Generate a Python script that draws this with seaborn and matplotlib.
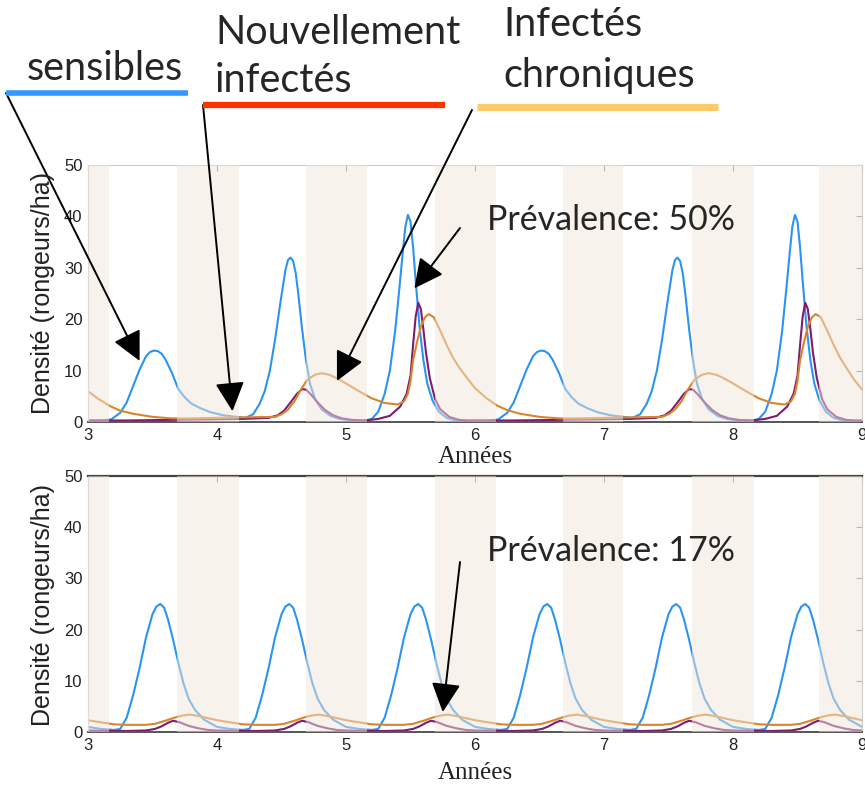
import matplotlib
matplotlib.use("Agg")
import matplotlib.pyplot as plt
from matplotlib.lines import Line2D
import seaborn as sns
import pandas as pd

# ---------------- data ----------------
season_bands = [(3.0, 3.16), (3.69, 4.17), (4.69, 5.16), (5.69, 6.16),
                (6.68, 7.15), (7.68, 8.16), (8.67, 9.0)]

# Top panel (prévalence 50%)
top_s_x = [3.00, 3.10, 3.18, 3.25, 3.30, 3.35, 3.40, 3.45, 3.48, 3.51,
           3.54, 3.57, 3.60, 3.65, 3.70, 3.75, 3.80, 3.87, 3.95, 4.05,
           4.15, 4.22, 4.28, 4.33, 4.37, 4.41, 4.45, 4.49, 4.53, 4.55,
           4.57, 4.59, 4.61, 4.63, 4.66, 4.69, 4.72, 4.76, 4.81, 4.88,
           4.95, 5.05, 5.15, 5.20, 5.25, 5.30, 5.34, 5.38, 5.41, 5.44,
           5.46, 5.48, 5.50, 5.52, 5.54, 5.57, 5.60, 5.63, 5.67, 5.72,
           5.78, 5.85, 5.95,
           6.00, 6.10, 6.18, 6.25, 6.30, 6.35, 6.40, 6.45, 6.48, 6.51,
           6.54, 6.57, 6.60, 6.65, 6.70, 6.75, 6.80, 6.87, 6.95, 7.05,
           7.15, 7.22, 7.28, 7.33, 7.37, 7.41, 7.45, 7.49, 7.53, 7.55,
           7.57, 7.59, 7.61, 7.63, 7.66, 7.69, 7.72, 7.76, 7.81, 7.88,
           7.95, 8.05, 8.15, 8.20, 8.25, 8.30, 8.34, 8.38, 8.41, 8.44,
           8.46, 8.48, 8.50, 8.52, 8.54, 8.57, 8.60, 8.63, 8.67, 8.72,
           8.78, 8.85, 8.95, 9.00]
top_s_y = [0.3, 0.3, 0.5, 1.8, 3.8, 7.0, 10.2, 12.8, 13.6, 13.9,
           13.8, 13.3, 12.2, 9.6, 6.4, 4.8, 3.6, 2.7, 1.9, 1.3,
           1.0, 0.8, 1.5, 3.5, 6.0, 10.0, 16.0, 23.0, 29.5, 31.5,
           32.0, 31.3, 29.0, 25.0, 18.0, 12.0, 7.5, 4.5, 2.5, 1.2,
           0.6, 0.3, 0.3, 0.6, 2.0, 5.5, 10.0, 17.5, 25.0, 33.0,
           38.0, 40.3, 39.0, 34.0, 27.5, 18.5, 12.0, 7.5, 4.2, 2.0,
           0.8, 0.3, 0.2,
           0.3, 0.3, 0.5, 1.8, 3.8, 7.0, 10.2, 12.8, 13.6, 13.9,
           13.8, 13.3, 12.2, 9.6, 6.4, 4.8, 3.6, 2.7, 1.9, 1.3,
           1.0, 0.8, 1.5, 3.5, 6.0, 10.0, 16.0, 23.0, 29.5, 31.5,
           32.0, 31.3, 29.0, 25.0, 18.0, 12.0, 7.5, 4.5, 2.5, 1.2,
           0.6, 0.3, 0.3, 0.6, 2.0, 5.5, 10.0, 17.5, 25.0, 33.0,
           38.0, 40.3, 39.0, 34.0, 27.5, 18.5, 12.0, 7.5, 4.2, 2.0,
           0.8, 0.3, 0.2, 0.2]

top_n_x = [3.00, 3.30, 3.60, 3.90, 4.20, 4.40, 4.47, 4.52, 4.57, 4.62,
           4.66, 4.69, 4.73, 4.78, 4.84, 4.90, 4.97, 5.05, 5.15, 5.25,
           5.34, 5.42, 5.47, 5.50, 5.52, 5.54, 5.56, 5.58, 5.60, 5.62,
           5.65, 5.69, 5.73, 5.80, 5.88, 5.95,
           6.00, 6.30, 6.60, 6.90, 7.20, 7.40, 7.47, 7.52, 7.57, 7.62,
           7.66, 7.69, 7.73, 7.78, 7.84, 7.90, 7.97, 8.05, 8.15, 8.25,
           8.34, 8.42, 8.47, 8.50, 8.52, 8.54, 8.56, 8.58, 8.60, 8.62,
           8.65, 8.69, 8.73, 8.80, 8.88, 8.95, 9.00]
top_n_y = [0.3, 0.3, 0.4, 0.5, 0.6, 0.8, 1.3, 2.2, 3.8, 5.5,
           6.4, 6.3, 5.3, 3.8, 2.3, 1.3, 0.7, 0.4, 0.3, 0.6,
           1.2, 3.0, 5.5, 9.0, 15.0, 20.5, 23.2, 22.0, 18.0, 13.5,
           8.5, 4.5, 2.5, 1.0, 0.4, 0.3,
           0.3, 0.3, 0.4, 0.5, 0.6, 0.8, 1.3, 2.2, 3.8, 5.5,
           6.4, 6.3, 5.3, 3.8, 2.3, 1.3, 0.7, 0.4, 0.3, 0.6,
           1.2, 3.0, 5.5, 9.0, 15.0, 20.5, 23.2, 22.0, 18.0, 13.5,
           8.5, 4.5, 2.5, 1.0, 0.4, 0.3, 0.3]

top_c_x = [3.00, 3.08, 3.17, 3.25, 3.35, 3.50, 3.65, 3.80, 4.00, 4.20,
           4.45, 4.50, 4.55, 4.60, 4.65, 4.70, 4.76, 4.81, 4.87, 4.93,
           5.00, 5.10, 5.20, 5.30, 5.40, 5.45, 5.48, 5.50, 5.52, 5.55,
           5.58, 5.61, 5.64, 5.68, 5.73, 5.78, 5.83, 5.88, 5.94,
           6.00, 6.08, 6.17, 6.25, 6.35, 6.50, 6.65, 6.80, 7.00, 7.20,
           7.45, 7.50, 7.55, 7.60, 7.65, 7.70, 7.76, 7.81, 7.87, 7.93,
           8.00, 8.10, 8.20, 8.30, 8.40, 8.45, 8.48, 8.50, 8.52, 8.55,
           8.58, 8.61, 8.64, 8.68, 8.73, 8.78, 8.83, 8.88, 8.94, 9.00]
top_c_y = [6.0, 4.5, 3.1, 2.2, 1.6, 1.0, 0.7, 0.7, 0.8, 0.9,
           1.0, 1.5, 2.4, 4.0, 6.3, 8.2, 9.2, 9.5, 9.2, 8.5,
           7.5, 6.0, 4.6, 3.7, 3.4, 4.0, 5.5, 8.0, 12.0, 15.5,
           18.5, 20.3, 21.0, 20.4, 17.8, 15.0, 12.5, 10.5, 8.5,
           6.6, 4.8, 3.2, 2.3, 1.6, 1.0, 0.7, 0.7, 0.8, 0.9,
           1.0, 1.5, 2.4, 4.0, 6.3, 8.2, 9.2, 9.5, 9.2, 8.5,
           7.5, 6.0, 4.6, 3.7, 3.4, 4.0, 5.5, 8.0, 12.0, 15.5,
           18.5, 20.3, 21.0, 20.4, 17.8, 15.0, 12.5, 10.5, 8.2, 6.3]

# Bottom panel (prévalence 17%)
bot_s_x = [3.00, 3.10, 3.20, 3.25, 3.30, 3.35, 3.40, 3.45, 3.50, 3.53, 3.56, 3.59, 3.62, 3.66, 3.70, 3.74, 3.78, 3.83, 3.90,
           4.00, 4.10, 4.20, 4.25, 4.30, 4.35, 4.40, 4.45, 4.50, 4.53, 4.56, 4.59, 4.62, 4.66, 4.70, 4.74, 4.78, 4.83, 4.90,
           5.00, 5.10, 5.20, 5.25, 5.30, 5.35, 5.40, 5.45, 5.50, 5.53, 5.56, 5.59, 5.62, 5.66, 5.70, 5.74, 5.78, 5.83, 5.90,
           6.00, 6.10, 6.20, 6.25, 6.30, 6.35, 6.40, 6.45, 6.50, 6.53, 6.56, 6.59, 6.62, 6.66, 6.70, 6.74, 6.78, 6.83, 6.90,
           7.00, 7.10, 7.20, 7.25, 7.30, 7.35, 7.40, 7.45, 7.50, 7.53, 7.56, 7.59, 7.62, 7.66, 7.70, 7.74, 7.78, 7.83, 7.90,
           8.00, 8.10, 8.20, 8.25, 8.30, 8.35, 8.40, 8.45, 8.50, 8.53, 8.56, 8.59, 8.62, 8.66, 8.70, 8.74, 8.78, 8.83, 8.90,
           9.00]
bot_s_y = [1.0, 0.6, 0.4, 0.6, 2.8, 7.2, 12.5, 18.5, 23.0, 24.5, 25.0, 24.3, 22.0, 18.0, 13.5, 9.5, 6.5, 4.3, 2.4,
           1.0, 0.6, 0.4, 0.6, 2.8, 7.2, 12.5, 18.5, 23.0, 24.5, 25.0, 24.3, 22.0, 18.0, 13.5, 9.5, 6.5, 4.3, 2.4,
           1.0, 0.6, 0.4, 0.6, 2.8, 7.2, 12.5, 18.5, 23.0, 24.5, 25.0, 24.3, 22.0, 18.0, 13.5, 9.5, 6.5, 4.3, 2.4,
           1.0, 0.6, 0.4, 0.6, 2.8, 7.2, 12.5, 18.5, 23.0, 24.5, 25.0, 24.3, 22.0, 18.0, 13.5, 9.5, 6.5, 4.3, 2.4,
           1.0, 0.6, 0.4, 0.6, 2.8, 7.2, 12.5, 18.5, 23.0, 24.5, 25.0, 24.3, 22.0, 18.0, 13.5, 9.5, 6.5, 4.3, 2.4,
           1.0, 0.6, 0.4, 0.6, 2.8, 7.2, 12.5, 18.5, 23.0, 24.5, 25.0, 24.3, 22.0, 18.0, 13.5, 9.5, 6.5, 4.3, 2.4,
           1.0]

bot_n_x = [3.00, 3.15, 3.30, 3.45, 3.52, 3.57, 3.62, 3.66, 3.71, 3.78, 3.86, 3.93,
           4.00, 4.15, 4.30, 4.45, 4.52, 4.57, 4.62, 4.66, 4.71, 4.78, 4.86, 4.93,
           5.00, 5.15, 5.30, 5.45, 5.52, 5.57, 5.62, 5.66, 5.71, 5.78, 5.86, 5.93,
           6.00, 6.15, 6.30, 6.45, 6.52, 6.57, 6.62, 6.66, 6.71, 6.78, 6.86, 6.93,
           7.00, 7.15, 7.30, 7.45, 7.52, 7.57, 7.62, 7.66, 7.71, 7.78, 7.86, 7.93,
           8.00, 8.15, 8.30, 8.45, 8.52, 8.57, 8.62, 8.66, 8.71, 8.78, 8.86, 8.93,
           9.00]
bot_n_y = [0.3, 0.2, 0.2, 0.3, 0.6, 1.1, 1.8, 2.2, 1.9, 1.2, 0.7, 0.4,
           0.3, 0.2, 0.2, 0.3, 0.6, 1.1, 1.8, 2.2, 1.9, 1.2, 0.7, 0.4,
           0.3, 0.2, 0.2, 0.3, 0.6, 1.1, 1.8, 2.2, 1.9, 1.2, 0.7, 0.4,
           0.3, 0.2, 0.2, 0.3, 0.6, 1.1, 1.8, 2.2, 1.9, 1.2, 0.7, 0.4,
           0.3, 0.2, 0.2, 0.3, 0.6, 1.1, 1.8, 2.2, 1.9, 1.2, 0.7, 0.4,
           0.3, 0.2, 0.2, 0.3, 0.6, 1.1, 1.8, 2.2, 1.9, 1.2, 0.7, 0.4,
           0.3]

bot_c_x = [3.00, 3.10, 3.20, 3.30, 3.45, 3.52, 3.60, 3.67, 3.73, 3.79, 3.86, 3.93,
           4.00, 4.10, 4.20, 4.30, 4.45, 4.52, 4.60, 4.67, 4.73, 4.79, 4.86, 4.93,
           5.00, 5.10, 5.20, 5.30, 5.45, 5.52, 5.60, 5.67, 5.73, 5.79, 5.86, 5.93,
           6.00, 6.10, 6.20, 6.30, 6.45, 6.52, 6.60, 6.67, 6.73, 6.79, 6.86, 6.93,
           7.00, 7.10, 7.20, 7.30, 7.45, 7.52, 7.60, 7.67, 7.73, 7.79, 7.86, 7.93,
           8.00, 8.10, 8.20, 8.30, 8.45, 8.52, 8.60, 8.67, 8.73, 8.79, 8.86, 8.93,
           9.00]
bot_c_y = [2.3, 1.9, 1.5, 1.4, 1.4, 1.6, 2.2, 2.8, 3.2, 3.4, 3.1, 2.7,
           2.3, 1.9, 1.5, 1.4, 1.4, 1.6, 2.2, 2.8, 3.2, 3.4, 3.1, 2.7,
           2.3, 1.9, 1.5, 1.4, 1.4, 1.6, 2.2, 2.8, 3.2, 3.4, 3.1, 2.7,
           2.3, 1.9, 1.5, 1.4, 1.4, 1.6, 2.2, 2.8, 3.2, 3.4, 3.1, 2.7,
           2.3, 1.9, 1.5, 1.4, 1.4, 1.6, 2.2, 2.8, 3.2, 3.4, 3.1, 2.7,
           2.3, 1.9, 1.5, 1.4, 1.4, 1.6, 2.2, 2.8, 3.2, 3.4, 3.1, 2.7,
           2.3]

x_ticks = [3, 4, 5, 6, 7, 8, 9]
y_ticks = [0, 10, 20, 30, 40, 50]
xlabel = "Années"
ylabel = "Densité (rongeurs/ha)"
prev_labels = ["Prévalence: 50%", "Prévalence: 17%"]

# ---------------- style ----------------
sns.set_style("white")
plt.rcParams['font.family'] = ['Liberation Sans', 'DejaVu Sans']

C_S = '#2b94f2'
C_N = '#7d1c70'
C_C = '#d9842c'
BAND = '#f0e6da'

W, H = 865, 785
fig = plt.figure(figsize=(W / 100, H / 100), dpi=100)
fig.patch.set_facecolor('white')


def px_axes(l, t, r, b):
    return fig.add_axes([l / W, 1 - b / H, (r - l) / W, (b - t) / H])


ax_top = px_axes(88, 165, 862, 422)
ax_bot = px_axes(88, 476, 862, 732)

panels = [
    (ax_top, (top_s_x, top_s_y), (top_n_x, top_n_y), (top_c_x, top_c_y)),
    (ax_bot, (bot_s_x, bot_s_y), (bot_n_x, bot_n_y), (bot_c_x, bot_c_y)),
]

for ax, s, n, c in panels:
    ax.set_facecolor('white')
    for (xx, yy), col in ((s, C_S), (n, C_N), (c, C_C)):
        df = pd.DataFrame({'x': xx, 'y': yy})
        sns.lineplot(data=df, x='x', y='y', ax=ax, color=col, linewidth=1.5,
                     estimator=None, sort=False, zorder=2)
    for a, b in season_bands:
        ax.axvspan(a, b, color=BAND, alpha=0.5, lw=0, zorder=3)
    ax.set_xlim(3, 9)
    ax.set_ylim(0, 50)
    ax.set_xticks(x_ticks)
    ax.set_yticks(y_ticks)
    ax.tick_params(direction='in', length=4, width=0.8, color='#888888',
                   top=True, right=True, labelsize=12, labelcolor='#222222',
                   pad=4)
    ax.set_xlabel('')
    ax.set_ylabel('')
    for side in ['left', 'right']:
        ax.spines[side].set_color('#cccccc')
        ax.spines[side].set_linewidth(0.8)
    ax.spines['bottom'].set_color('#555555')
    ax.spines['bottom'].set_linewidth(1.4)

ax_top.spines['top'].set_color('#cccccc')
ax_top.spines['top'].set_linewidth(0.8)
ax_bot.spines['top'].set_color('#444444')
ax_bot.spines['top'].set_linewidth(1.6)

# axis labels
for ax, yc, xl_y in ((ax_top, 293, 457), (ax_bot, 605, 773)):
    fig.text(43 / W, 1 - yc / H, ylabel, rotation=90, ha='center', va='center',
             fontsize=18, color='#222222', family=['Liberation Sans', 'DejaVu Sans'])
    fig.text(475 / W, 1 - xl_y / H, xlabel, ha='center', va='center',
             fontsize=18, color='#222222', family=['Liberation Serif', 'DejaVu Serif'])

# prevalence labels
ann_font = ['Lato', 'DejaVu Sans']
fig.text(487 / W, 1 - 220 / H, prev_labels[0], ha='left', va='center',
         fontsize=24.5, family=ann_font)
fig.text(487 / W, 1 - 551 / H, prev_labels[1], ha='left', va='center',
         fontsize=24.5, family=ann_font)

# legend labels with coloured bars
legend_items = [
    (["sensibles"], [68], 27, (6, 188, 93), '#3399ff', 4.0),
    (["Nouvellement", "infectés"], [32, 80], 215, (203, 445, 105), '#ff3300', 4.5),
    (["Infectés", "chroniques"], [25, 75], 503, (477, 718, 107), '#ffc966', 5.0),
]
for lines, ys, lx, (x0, x1, ly), col, lw in legend_items:
    for txt, yy in zip(lines, ys):
        fig.text(lx / W, 1 - yy / H, txt, ha='left', va='center', fontsize=28.5,
                 family=ann_font)
    fig.add_artist(Line2D([x0 / W, x1 / W], [1 - ly / H, 1 - ly / H],
                          transform=fig.transFigure, color=col, lw=lw,
                          solid_capstyle='butt'))

# arrows (tail in figure pixels, tip on the data)
arrow_kw = dict(arrowstyle='-|>,head_length=0.9,head_width=0.45', color='black',
                lw=1.4, shrinkA=0, shrinkB=0, mutation_scale=20)
arrows = [
    (ax_top, (3.40, 11.9), (6, 93)),
    (ax_top, (4.12, 2.1), (203, 105)),
    (ax_top, (4.93, 8.0), (472, 110)),
    (ax_top, (5.53, 26.0), (460, 228)),
    (ax_bot, (5.75, 3.9), (460, 562)),
]
for ax, tip, (tx, ty) in arrows:
    ax.annotate('', xy=tip, xycoords='data', xytext=(tx, H - ty),
                textcoords='figure pixels', arrowprops=arrow_kw,
                annotation_clip=False, zorder=10)

fig.savefig('out.png', dpi=100, facecolor='white')
